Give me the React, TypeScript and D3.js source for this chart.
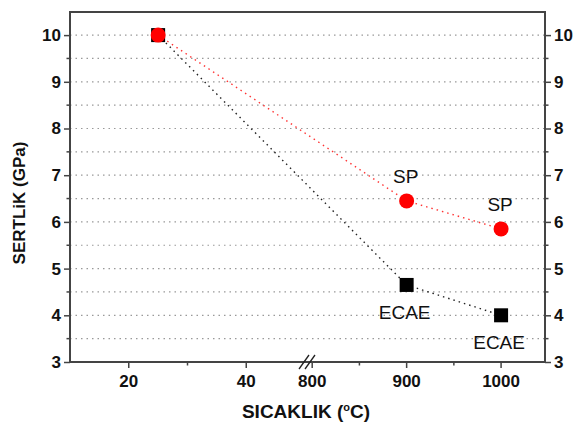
import React, { useEffect, useRef } from "react";
import * as d3 from "d3";

// temperatures (°C) of the measured points
const temps = [25, 900, 1000];
const spValues = [10, 6.45, 5.85];
const ecaeValues = [10, 4.65, 4.0];
const spLabels = ["", "SP", "SP"];
const ecaeLabels = ["", "ECAE", "ECAE"];

const lowTicks = [20, 40];
const lowMinor = [30];
const highTicks = [800, 900, 1000];
const highMinor = [850, 950];
const yTicks = [3, 4, 5, 6, 7, 8, 9, 10];

export default function App() {
  const ref = useRef<SVGSVGElement>(null);

  useEffect(() => {
    const svg = d3.select(ref.current);
    svg.selectAll("*").remove();

    const left = 70,
      right = 545,
      top = 12,
      bottom = 362,
      breakX = 307;
    const font = "Arial, 'Liberation Sans', sans-serif";

    // broken x axis: two linear pieces
    const xLow = d3.scaleLinear().domain([10, 50]).range([left, 305]);
    const xHigh = d3.scaleLinear().domain([794.5, 1046.5]).range([breakX, right]);
    const x = (t: number) => (t < 100 ? xLow(t) : xHigh(t));

    const y = d3.scaleLinear().domain([3, 10.5]).range([bottom, bottom - 7.5 * 46.7]);

    svg.append("rect").attr("width", 574).attr("height", 423).attr("fill", "white");

    // grid
    const gridVals = d3.range(3.5, 10.01, 0.5);
    svg
      .append("g")
      .selectAll("line")
      .data(gridVals)
      .join("line")
      .attr("x1", left)
      .attr("x2", right)
      .attr("y1", (d) => y(d))
      .attr("y2", (d) => y(d))
      .attr("stroke", "#999")
      .attr("stroke-width", 1.2)
      .attr("stroke-dasharray", "1.5,4");

    // frame
    svg
      .append("rect")
      .attr("x", left)
      .attr("y", top)
      .attr("width", right - left)
      .attr("height", bottom - top)
      .attr("fill", "none")
      .attr("stroke", "#444")
      .attr("stroke-width", 2);

    // left & right y axes
    const yMinor = d3.range(3.5, 10.01, 1);
    const axisL = d3.axisLeft(y).tickValues(yTicks).tickSize(6).tickPadding(3).tickFormat(d3.format("d"));
    const axisR = d3.axisRight(y).tickValues(yTicks).tickSize(6).tickPadding(3).tickFormat(d3.format("d"));
    const gl = svg.append("g").attr("transform", `translate(${left},0)`).call(axisL);
    const gr = svg.append("g").attr("transform", `translate(${right},0)`).call(axisR);
    [gl, gr].forEach((g, i) => {
      g.select(".domain").remove();
      g.selectAll("line").attr("stroke", "#444").attr("stroke-width", 1.5);
      g.selectAll("text")
        .attr("font-family", font)
        .attr("font-weight", "bold")
        .attr("font-size", 17)
        .attr("fill", "#111");
      g.selectAll(".minor")
        .data(yMinor)
        .join("line")
        .attr("class", "minor")
        .attr("x1", 0)
        .attr("x2", i === 0 ? -3.5 : 3.5)
        .attr("y1", (d) => y(d))
        .attr("y2", (d) => y(d))
        .attr("stroke", "#444")
        .attr("stroke-width", 1.5);
    });

    // bottom axis, two segments
    const xg = svg.append("g").attr("transform", `translate(0,${bottom})`);
    const major = [
      ...lowTicks.map((t) => ({ t, px: xLow(t) })),
      ...highTicks.map((t) => ({ t, px: xHigh(t) })),
    ];
    const minor = [...lowMinor.map((t) => xLow(t)), ...highMinor.map((t) => xHigh(t))];
    xg.selectAll(".maj")
      .data(major)
      .join("line")
      .attr("x1", (d) => d.px)
      .attr("x2", (d) => d.px)
      .attr("y1", 0)
      .attr("y2", 6)
      .attr("stroke", "#444")
      .attr("stroke-width", 1.5);
    xg.selectAll(".mn")
      .data(minor)
      .join("line")
      .attr("x1", (d) => d)
      .attr("x2", (d) => d)
      .attr("y1", 0)
      .attr("y2", 3.5)
      .attr("stroke", "#444")
      .attr("stroke-width", 1.5);
    xg.selectAll("text")
      .data(major)
      .join("text")
      .attr("x", (d) => d.px)
      .attr("y", 25)
      .attr("text-anchor", "middle")
      .attr("font-family", font)
      .attr("font-weight", "bold")
      .attr("font-size", 17)
      .attr("fill", "#111")
      .text((d) => d.t);

    // break marks
    [-3, 3].forEach((dx) => {
      svg
        .append("line")
        .attr("x1", breakX + dx - 5)
        .attr("y1", bottom + 7)
        .attr("x2", breakX + dx + 5)
        .attr("y2", bottom - 7)
        .attr("stroke", "#222")
        .attr("stroke-width", 1.3);
    });

    // lines
    const line = d3
      .line<number>()
      .x((_, i) => x(temps[i]))
      .y((d) => y(d));
    svg
      .append("path")
      .attr("d", line(ecaeValues))
      .attr("fill", "none")
      .attr("stroke", "#222")
      .attr("stroke-width", 1.4)
      .attr("stroke-dasharray", "1.5,4");
    svg
      .append("path")
      .attr("d", line(spValues))
      .attr("fill", "none")
      .attr("stroke", "#f33")
      .attr("stroke-width", 1.4)
      .attr("stroke-dasharray", "1.5,4");

    // markers
    svg
      .selectAll(".sq")
      .data(ecaeValues)
      .join("rect")
      .attr("x", (_, i) => x(temps[i]) - 7)
      .attr("y", (d) => y(d) - 7)
      .attr("width", 14)
      .attr("height", 14)
      .attr("fill", "#000");
    svg
      .selectAll(".ci")
      .data(spValues)
      .join("circle")
      .attr("cx", (_, i) => x(temps[i]))
      .attr("cy", (d) => y(d))
      .attr("r", 7.5)
      .attr("fill", "#f00");

    // point labels
    const lab = { "font-family": font, "font-size": 19, fill: "#111" };
    spValues.forEach((v, i) => {
      if (!spLabels[i]) return;
      const t = svg
        .append("text")
        .attr("x", x(temps[i]) - 1)
        .attr("y", y(v) - 18)
        .attr("text-anchor", "middle")
        .text(spLabels[i]);
      Object.entries(lab).forEach(([k, val]) => t.attr(k, val as any));
    });
    ecaeValues.forEach((v, i) => {
      if (!ecaeLabels[i]) return;
      const t = svg
        .append("text")
        .attr("x", x(temps[i]) - 2)
        .attr("y", y(v) + 34)
        .attr("text-anchor", "middle")
        .text(ecaeLabels[i]);
      Object.entries(lab).forEach(([k, val]) => t.attr(k, val as any));
    });

    // axis titles
    svg
      .append("text")
      .attr("transform", `translate(25,${(top + bottom) / 2 + 16}) rotate(-90)`)
      .attr("text-anchor", "middle")
      .attr("font-family", font)
      .attr("font-weight", "bold")
      .attr("font-size", 17)
      .attr("fill", "#111")
      .text("SERTLiK (GPa)");

    const xt = svg
      .append("text")
      .attr("x", 306)
      .attr("y", 418)
      .attr("text-anchor", "middle")
      .attr("font-family", font)
      .attr("font-weight", "bold")
      .attr("font-size", 19)
      .attr("fill", "#111");
    xt.append("tspan").text("SICAKLIK (");
    xt.append("tspan").attr("dy", -7).attr("font-size", 11).text("o");
    xt.append("tspan").attr("dy", 7).text("C)");
  }, []);

  return (
    <svg
      ref={ref}
      width={574}
      height={423}
      style={{ position: "absolute", left: 0, top: 0, display: "block" }}
    />
  );
}
